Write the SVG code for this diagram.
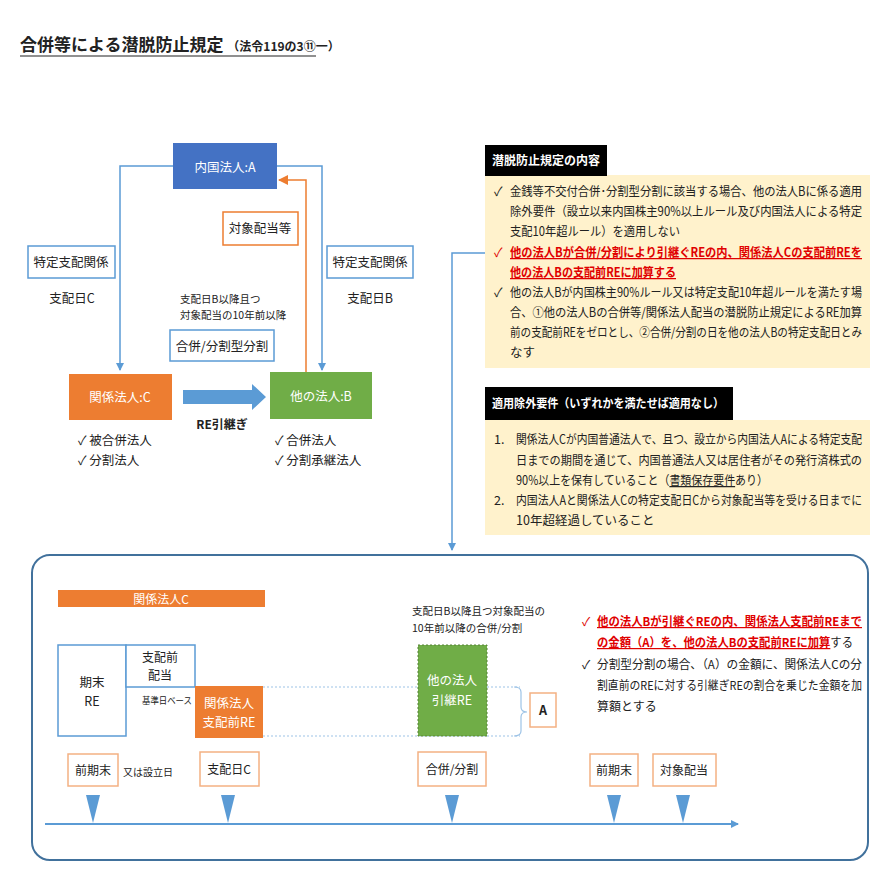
<svg xmlns="http://www.w3.org/2000/svg" width="886" height="886" viewBox="0 0 886 886">
<style>
text{font-family:"Noto Sans CJK JP","Noto Sans CJK SC",sans-serif;fill:#222;}
.t13{font-size:12.5px;}
.t12{font-size:12px;}
.t11{font-size:10.5px;}
.w{fill:#fff;}
.red{fill:#e00000;font-weight:bold;text-decoration:underline;}
.bl{fill:none;stroke:#5b9bd5;stroke-width:1.5;}
.ob{fill:#fff;stroke:#f4b183;stroke-width:1.5;}
.ob2{fill:#fff;stroke:#ed7d31;stroke-width:1.5;}
.bb{fill:#fff;stroke:#5b9bd5;stroke-width:1.5;}
.tri{fill:#5b9bd5;}
</style>
<defs>
<marker id="ab" markerWidth="8" markerHeight="8" refX="7" refY="4" orient="auto" markerUnits="userSpaceOnUse"><path d="M0,0 L8,4 L0,8 z" fill="#5b9bd5"/></marker>
<marker id="ao" markerWidth="10" markerHeight="10" refX="9" refY="5" orient="auto" markerUnits="userSpaceOnUse"><path d="M0,0 L10,5 L0,10 z" fill="#ed7d31"/></marker>
</defs>
<rect width="886" height="886" fill="#fff"/>
<text x="20" y="51" style="font-size:17px;font-weight:bold;">合併等による潜脱防止規定 <tspan style="font-size:12px">（法令119の3⑪一）</tspan></text>
<line x1="20" y1="56" x2="316" y2="56" stroke="#222" stroke-width="1.2"/>

<g id="connectors">
<polyline class="bl" points="173,166 120,166 120,370" marker-end="url(#ab)"/>
<polyline class="bl" points="277,166 322,166 322,370" marker-end="url(#ab)"/>
<polyline points="306,372 306,180 279,180" fill="none" stroke="#ed7d31" stroke-width="1.5" marker-end="url(#ao)"/>
<path d="M183,390 L252,390 L252,384 L266,397 L252,410 L252,404 L183,404 z" fill="#5b9bd5"/>
<path d="M488,253 L452,253 L452,550" class="bl" marker-end="url(#ab)"/>
<circle cx="500" cy="253" r="12" fill="none" stroke="#2e75b6" stroke-width="1.5"/>
<line x1="45" y1="824" x2="738" y2="824" stroke="#5b9bd5" stroke-width="2" marker-end="url(#ab)"/>
</g>

<g id="nodeA"><rect x="173" y="143" width="104" height="46" fill="#4472c4"/><text x="225" y="172" text-anchor="middle" class="t13 w">内国法人:A</text></g>
<g id="tokuteiL"><rect x="28" y="246" width="87" height="32" class="bb"/><text x="71" y="267" text-anchor="middle" class="t13">特定支配関係</text></g>
<text x="72" y="303" text-anchor="middle" class="t13">支配日C</text>
<g id="tokuteiR"><rect x="327" y="246" width="86" height="32" class="bb"/><text x="370" y="267" text-anchor="middle" class="t13">特定支配関係</text></g>
<text x="370" y="303" text-anchor="middle" class="t13">支配日B</text>
<g id="taisho"><rect x="223" y="212" width="75" height="33" class="ob2"/><text x="260" y="233" text-anchor="middle" class="t13">対象配当等</text></g>
<text x="180" y="303" class="t11">支配日B以降且つ</text>
<text x="180" y="319" class="t11">対象配当の10年前以降</text>
<g id="gappei"><rect x="170" y="330" width="104" height="31" class="bb"/><text x="222" y="351" text-anchor="middle" class="t13">合併/分割型分割</text></g>
<g id="nodeC"><rect x="69" y="374" width="103" height="46" fill="#ed7d31"/><text x="120" y="402" text-anchor="middle" class="t13 w">関係法人:C</text></g>
<g id="nodeB"><rect x="270" y="372" width="102" height="47" fill="#70ad47"/><text x="321" y="401" text-anchor="middle" class="t13 w">他の法人:B</text></g>
<text x="222" y="429" text-anchor="middle" class="t12" style="font-weight:bold">RE引継ぎ</text>
<text x="78" y="445" class="t13">✓ 被合併法人</text>
<text x="78" y="465" class="t13">✓ 分割法人</text>
<text x="275" y="445" class="t13">✓ 合併法人</text>
<text x="275" y="465" class="t13">✓ 分割承継法人</text>

<g id="panel1">
<rect x="485" y="175" width="385" height="193" fill="#fff2cc"/>
<rect x="485" y="145" width="122" height="31" fill="#000"/>
<text x="492" y="165" class="t12 w" style="font-weight:bold">潜脱防止規定の内容</text>
<text x="494" y="196" class="t13">✓</text><text x="510" y="196" class="t13" textLength="352" lengthAdjust="spacingAndGlyphs">金銭等不交付合併･分割型分割に該当する場合、他の法人Bに係る適用</text>
<text x="510" y="216" class="t13" textLength="352" lengthAdjust="spacingAndGlyphs">除外要件（設立以来内国株主90%以上ルール及び内国法人による特定</text>
<text x="510" y="236" class="t13" textLength="170" lengthAdjust="spacingAndGlyphs">支配10年超ルール）を適用しない</text>
<text x="494" y="257" class="t13" fill="#e00000" style="fill:#e00000">✓</text><text x="510" y="257" class="t13 red" textLength="352" lengthAdjust="spacingAndGlyphs">他の法人Bが合併/分割により引継ぐREの内、関係法人Cの支配前REを</text>
<text x="510" y="277" class="t13 red" textLength="166" lengthAdjust="spacingAndGlyphs">他の法人Bの支配前REに加算する</text>
<text x="494" y="297" class="t13">✓</text><text x="510" y="297" class="t13" textLength="352" lengthAdjust="spacingAndGlyphs">他の法人Bが内国株主90%ルール又は特定支配10年超ルールを満たす場</text>
<text x="510" y="317" class="t13" textLength="352" lengthAdjust="spacingAndGlyphs">合、①他の法人Bの合併等/関係法人配当の潜脱防止規定によるRE加算</text>
<text x="510" y="337" class="t13" textLength="352" lengthAdjust="spacingAndGlyphs">前の支配前REをゼロとし、②合併/分割の日を他の法人Bの特定支配日とみ</text>
<text x="510" y="357" class="t13">なす</text>
</g>
<g id="panel2">
<rect x="485" y="420" width="385" height="115" fill="#fff2cc"/>
<rect x="485" y="387" width="248" height="33" fill="#000"/>
<text x="492" y="408" class="t12 w" style="font-weight:bold" textLength="232" lengthAdjust="spacingAndGlyphs">適用除外要件（いずれかを満たせば適用なし）</text>
<text x="494" y="444" class="t13">1.</text><text x="516" y="444" class="t13" textLength="346" lengthAdjust="spacingAndGlyphs">関係法人Cが内国普通法人で、且つ、設立から内国法人Aによる特定支配</text>
<text x="516" y="465" class="t13" textLength="346" lengthAdjust="spacingAndGlyphs">日までの期間を通じて、内国普通法人又は居住者がその発行済株式の</text>
<text x="516" y="485" class="t13" textLength="252" lengthAdjust="spacingAndGlyphs">90%以上を保有していること（<tspan text-decoration="underline">書類保存要件</tspan>あり）</text>
<text x="494" y="505" class="t13">2.</text><text x="516" y="505" class="t13" textLength="346" lengthAdjust="spacingAndGlyphs">内国法人Aと関係法人Cの特定支配日Cから対象配当等を受ける日までに</text>
<text x="516" y="525" class="t13">10年超経過していること</text>
</g>

<rect x="32" y="555" width="836" height="305" rx="18" fill="none" stroke="#41719c" stroke-width="2"/>
<g id="barC"><rect x="58" y="590" width="207" height="17" fill="#ed7d31"/><text x="161" y="604" text-anchor="middle" class="t12 w">関係法人C</text></g>
<g id="kimatsu"><rect x="58" y="645" width="68" height="91" class="bb"/><text x="92" y="687" text-anchor="middle" class="t13">期末</text><text x="92" y="706" text-anchor="middle" class="t13">RE</text></g>
<g id="shihaimaehaito"><rect x="126" y="645" width="69" height="42" class="bb"/><text x="160" y="662" text-anchor="middle" class="t12">支配前</text><text x="160" y="680" text-anchor="middle" class="t12">配当</text></g>
<text x="142" y="704" style="font-size:9.5px" textLength="50" lengthAdjust="spacingAndGlyphs">基準日ベース</text>
<g id="shihaimaeRE"><rect x="195" y="686" width="68" height="52" fill="#ed7d31"/><text x="229" y="708" text-anchor="middle" class="t13 w">関係法人</text><text x="229" y="727" text-anchor="middle" class="t13 w">支配前RE</text></g>
<line x1="263" y1="687" x2="520" y2="687" stroke="#9dc3e6" stroke-dasharray="2,2"/>
<line x1="263" y1="736" x2="520" y2="736" stroke="#9dc3e6" stroke-dasharray="2,2"/>
<path d="M514,687 Q521,687 521,692 L521,707 Q521,712 527,712 Q521,712 521,717 L521,731 Q521,736 514,736" fill="none" stroke="#9dc3e6" stroke-width="1.2"/>
<text x="412" y="615" class="t11">支配日B以降且つ対象配当の</text>
<text x="412" y="632" class="t11">10年前以降の合併/分割</text>
<g id="hikitsugi"><rect x="418" y="645" width="69" height="91" fill="#70ad47" stroke="#548235" stroke-dasharray="2,2"/><text x="452" y="685" text-anchor="middle" class="t13 w">他の法人</text><text x="452" y="705" text-anchor="middle" class="t13 w">引継RE</text></g>
<g id="boxA"><rect x="530" y="693" width="26" height="34" class="ob"/><text x="543" y="715" text-anchor="middle" class="t13" style="font-weight:bold">A</text></g>
<g id="t1"><rect x="68" y="754" width="50" height="32" class="ob"/><text x="93" y="775" text-anchor="middle" class="t12">前期末</text></g>
<text x="123" y="776" style="font-size:10px">又は設立日</text>
<g id="t2"><rect x="200" y="752" width="59" height="34" class="ob"/><text x="229" y="774" text-anchor="middle" class="t12">支配日C</text></g>
<g id="t3"><rect x="418" y="752" width="68" height="34" class="ob"/><text x="452" y="774" text-anchor="middle" class="t12">合併/分割</text></g>
<g id="t4"><rect x="590" y="754" width="48" height="32" class="ob"/><text x="614" y="775" text-anchor="middle" class="t12">前期末</text></g>
<g id="t5"><rect x="653" y="754" width="63" height="32" class="ob"/><text x="684" y="775" text-anchor="middle" class="t12">対象配当</text></g>
<path class="tri" d="M86,795 L100,795 L93,823 z"/>
<path class="tri" d="M221,795 L235,795 L228,823 z"/>
<path class="tri" d="M445,795 L459,795 L452,823 z"/>
<path class="tri" d="M607,795 L621,795 L614,823 z"/>
<path class="tri" d="M676,795 L690,795 L683,823 z"/>
<g id="note">
<text x="582" y="626" class="t12" style="fill:#e00000">✓</text><text x="597" y="626" class="t12 red" textLength="265" lengthAdjust="spacingAndGlyphs">他の法人Bが引継ぐREの内、関係法人支配前REまで</text>
<text x="597" y="647" class="t12" textLength="256" lengthAdjust="spacingAndGlyphs"><tspan class="red">の金額（A）を、他の法人Bの支配前REに加算</tspan>する</text>
<text x="582" y="669" class="t12">✓</text><text x="597" y="669" class="t12" textLength="265" lengthAdjust="spacingAndGlyphs">分割型分割の場合、（A）の金額に、関係法人Cの分</text>
<text x="597" y="690" class="t12" textLength="265" lengthAdjust="spacingAndGlyphs">割直前のREに対する引継ぎREの割合を乗じた金額を加</text>
<text x="597" y="711" class="t12">算額とする</text>
</g>
</svg>
